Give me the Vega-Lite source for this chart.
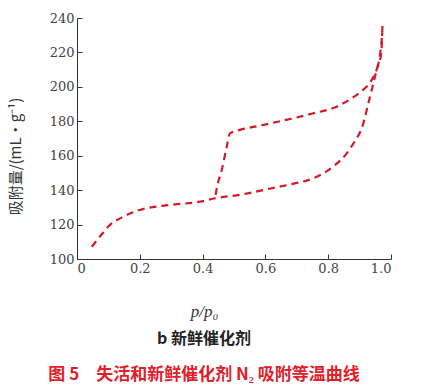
{
  "$schema": "https://vega.github.io/schema/vega-lite/v6.json",
  "width": 314,
  "height": 241,
  "autosize": {"type": "none"},
  "padding": {"left": 77, "top": 18, "right": 39, "bottom": 129},
  "background": "white",
  "config": {"view": {"stroke": null}, "axis": {"labelFont": "DejaVu Serif"}},
  "title": {
    "text": "b 新鲜催化剂",
    "subtitle": "图 5　失活和新鲜催化剂 N₂ 吸附等温曲线",
    "orient": "bottom",
    "anchor": "middle",
    "dx": -30,
    "offset": 12,
    "font": "Noto Sans CJK SC",
    "fontSize": 16,
    "fontWeight": "bold",
    "color": "#222222",
    "subtitleFont": "Noto Sans CJK SC",
    "subtitleFontSize": 17,
    "subtitleFontWeight": "bold",
    "subtitleColor": "#e0202a",
    "subtitlePadding": 20
  },
  "data": {
    "values": [
      {"p": 0.047, "v": 107.1, "o": 1},
      {"p": 0.075, "v": 113.5, "o": 2},
      {"p": 0.105, "v": 119.8, "o": 3},
      {"p": 0.137, "v": 123.6, "o": 4},
      {"p": 0.2, "v": 128.5, "o": 5},
      {"p": 0.296, "v": 131.4, "o": 6},
      {"p": 0.392, "v": 133.3, "o": 7},
      {"p": 0.44, "v": 135.3, "o": 8},
      {"p": 0.52, "v": 137.3, "o": 9},
      {"p": 0.604, "v": 140.5, "o": 10},
      {"p": 0.69, "v": 143.8, "o": 11},
      {"p": 0.753, "v": 146.9, "o": 12},
      {"p": 0.816, "v": 153.7, "o": 13},
      {"p": 0.859, "v": 161.4, "o": 14},
      {"p": 0.885, "v": 168.5, "o": 15},
      {"p": 0.907, "v": 176.0, "o": 16},
      {"p": 0.933, "v": 194.3, "o": 17},
      {"p": 0.954, "v": 209.8, "o": 18},
      {"p": 0.966, "v": 220.0, "o": 19},
      {"p": 0.973, "v": 236.0, "o": 20},
      {"p": 0.969, "v": 219.5, "o": 21},
      {"p": 0.954, "v": 209.8, "o": 22},
      {"p": 0.935, "v": 203.0, "o": 23},
      {"p": 0.917, "v": 199.2, "o": 24},
      {"p": 0.88, "v": 194.0, "o": 25},
      {"p": 0.827, "v": 188.5, "o": 26},
      {"p": 0.75, "v": 184.5, "o": 27},
      {"p": 0.67, "v": 181.0, "o": 28},
      {"p": 0.583, "v": 177.5, "o": 29},
      {"p": 0.519, "v": 175.0, "o": 30},
      {"p": 0.487, "v": 173.0, "o": 31},
      {"p": 0.477, "v": 165.3, "o": 32},
      {"p": 0.461, "v": 151.7, "o": 33},
      {"p": 0.445, "v": 141.0, "o": 34},
      {"p": 0.44, "v": 135.3, "o": 35}
    ]
  },
  "mark": {"type": "line", "color": "#d7182a", "strokeWidth": 2.2, "strokeDash": [7, 5], "interpolate": "monotone"},
  "encoding": {
    "order": {"field": "o", "type": "quantitative"},
    "x": {
      "field": "p", "type": "quantitative",
      "scale": {"domain": [0, 1], "nice": false},
      "axis": {
        "values": [0, 0.2, 0.4, 0.6, 0.8, 1.0],
        "labelExpr": "datum.value == 0 ? '0' : format(datum.value, '.1f')",
        "grid": false,
        "domainColor": "#333333",
        "tickColor": "#333333",
        "tickSize": -5,
        "labelPadding": 8,
        "labelFont": "DejaVu Serif",
        "labelFontSize": 13,
        "labelColor": "#444444",
        "title": "p/p₀",
        "titleFont": "Liberation Serif, serif",
        "titleFontStyle": "italic",
        "titleFontWeight": "normal",
        "titleFontSize": 17,
        "titleColor": "#333333",
        "titleX": 127,
        "titleY": 52,
        "titleAlign": "center",
        "titleBaseline": "middle"
      }
    },
    "y": {
      "field": "v", "type": "quantitative",
      "scale": {"domain": [100, 240], "nice": false},
      "axis": {
        "values": [100, 120, 140, 160, 180, 200, 220, 240],
        "grid": false,
        "domainColor": "#333333",
        "tickColor": "#333333",
        "tickSize": -5,
        "labelPadding": 8,
        "labelFont": "DejaVu Serif",
        "labelFontSize": 13,
        "labelColor": "#444444",
        "title": "吸附量/(mL·g⁻¹)",
        "titleFont": "Noto Sans CJK SC",
        "titleFontWeight": "normal",
        "titleFontSize": 15,
        "titleColor": "#333333",
        "titleX": -62,
        "titleY": 138,
        "titleAlign": "center",
        "titleBaseline": "middle",
        "titleAngle": -90
      }
    }
  }
}
